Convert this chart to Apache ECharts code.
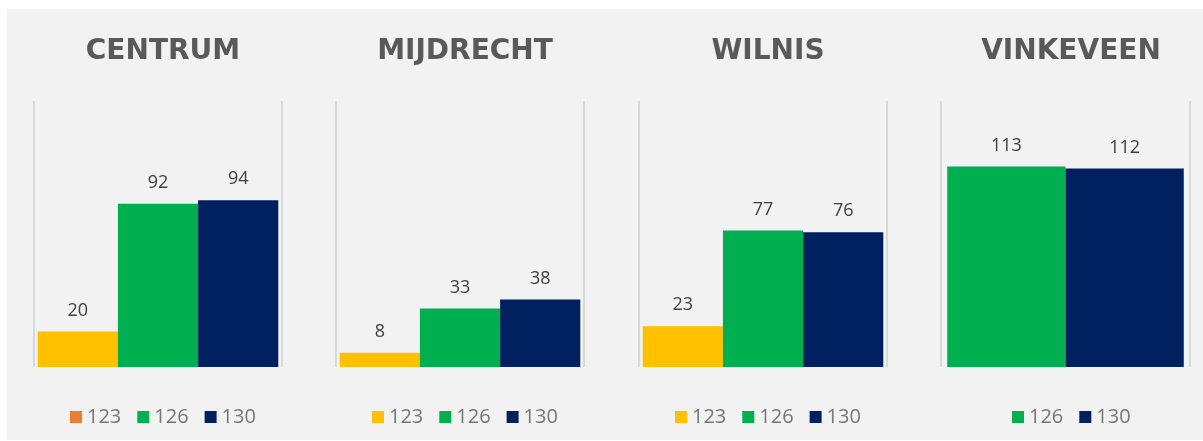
<!DOCTYPE html>
<html>
<head>
<meta charset="utf-8">
<script src="https://cdn.jsdelivr.net/npm/echarts@6/dist/echarts.min.js"></script>
<style>
html, body { margin: 0; padding: 0; background: #fff; }
#chart { width: 1203px; height: 441px; }
</style>
</head>
<body>
<div id="chart"></div>
<script>
// data per region (panel)
const regions = ['CENTRUM', 'MIJDRECHT', 'WILNIS', 'VINKEVEEN']
const seriesNames = ['123', '126', '130']
const values123 = [20, 8, 23, null]
const values126 = [92, 33, 77, 113]
const values130 = [94, 38, 76, 112]

const barColors = { '123': '#FFC000', '126': '#00B050', '130': '#002060' }
// the first legend shows an orange icon for 123 in the original
const legend123Color = ['#ED7D31', '#FFC000', '#FFC000', '#FFC000']

const gridLeft = [34, 336, 639, 941]
const gridWidth = [248, 248, 248, 249]
const centers = [163, 465, 768, 1071]

const legendFont = 20
const measureCtx = document.createElement('canvas').getContext('2d')
measureCtx.font = legendFont + 'px "Open Sans"'

function legendWidth(names) {
  let w = 0
  names.forEach((n, i) => {
    w += 12 + 5 + measureCtx.measureText(n).width
    if (i > 0) w += 16
  })
  return w
}

const chart = echarts.init(document.getElementById('chart'))

const grid = []
const xAxis = []
const yAxis = []
const title = []
const legend = []
const series = []

regions.forEach((region, i) => {
  const vals = { '123': values123[i], '126': values126[i], '130': values130[i] }
  const names = seriesNames.filter(n => vals[n] != null)

  grid.push({ left: gridLeft[i], width: gridWidth[i], top: 101, height: 266 })
  xAxis.push({
    gridIndex: i,
    type: 'category',
    data: [''],
    axisLine: { show: false },
    axisTick: { show: false },
    axisLabel: { show: false },
    splitLine: { show: true, lineStyle: { color: '#d9d9d9', width: 2 } }
  })
  yAxis.push({ gridIndex: i, type: 'value', min: 0, max: 150, show: false })

  title.push({
    text: region,
    left: centers[i],
    top: 38,
    textAlign: 'center',
    padding: 0,
    textStyle: { fontFamily: 'DejaVu Sans', fontWeight: 'bold', fontSize: 28, color: '#595959' }
  })

  legend.push({
    data: names.map(n => n === '123'
      ? { name: n, itemStyle: { color: legend123Color[i] } }
      : n),
    left: Math.round(centers[i] - legendWidth(names) / 2),
    top: 407,
    padding: 0,
    itemGap: 16,
    itemWidth: 12,
    itemHeight: 12,
    icon: 'rect',
    selectedMode: false,
    textStyle: { fontFamily: 'Open Sans', fontSize: legendFont, color: '#767676' }
  })

  names.forEach(n => {
    series.push({
      name: n,
      type: 'bar',
      xAxisIndex: i,
      yAxisIndex: i,
      data: [vals[n]],
      barGap: '0%',
      barCategoryGap: i === 3 ? '5%' : '3%',
      itemStyle: { color: barColors[n] },
      label: {
        show: true,
        position: 'top',
        distance: 12,
        fontFamily: 'Open Sans',
        fontSize: 18,
        color: '#404040'
      },
      emphasis: { disabled: true }
    })
  })
})

chart.setOption({
  backgroundColor: '#ffffff',
  animation: false,
  graphic: [{
    type: 'rect',
    z: -10,
    silent: true,
    shape: { x: 7, y: 9, width: 1196, height: 431 },
    style: { fill: '#f2f2f2' }
  }],
  title,
  legend,
  grid,
  xAxis,
  yAxis,
  series
})
</script>
</body>
</html>
